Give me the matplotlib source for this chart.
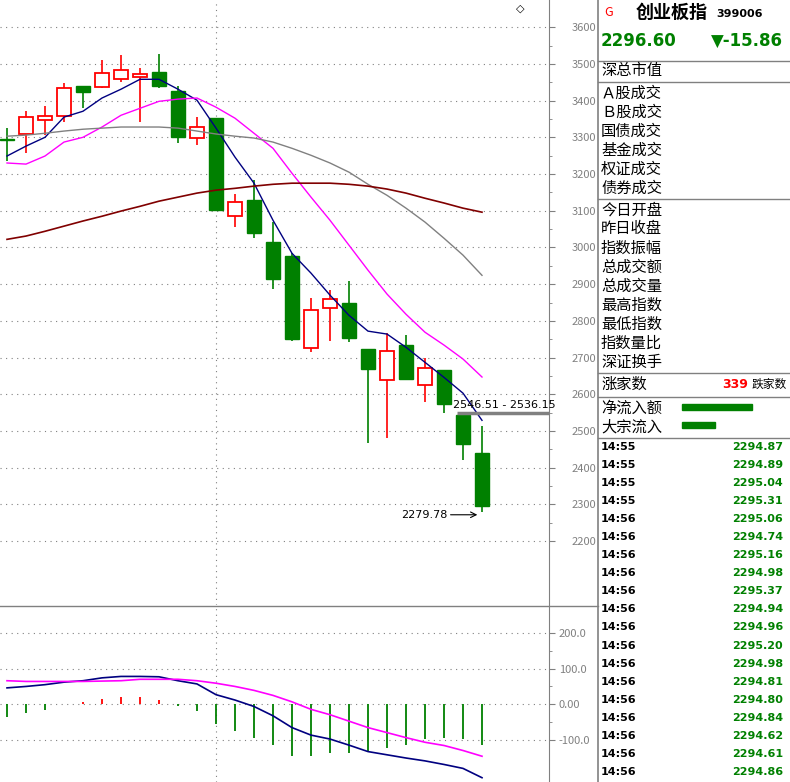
import matplotlib
matplotlib.use("Agg")
import matplotlib.pyplot as plt
import numpy as np

plt.rcParams['font.family'] = ['Noto Sans CJK SC', 'DejaVu Sans']

opens  = [3295,3309,3347,3358,3439,3437,3458,3464,3477,3426,3298,3352,3085,3129,3014,2976,2726,2835,2848,2723,2638,2734,2625,2666,2543,2440]
closes = [3292,3355,3358,3434,3423,3475,3483,3472,3439,3300,3328,3101,3123,3039,2914,2750,2829,2859,2753,2668,2717,2641,2671,2573,2464,2296.6]
highs  = [3325,3371,3385,3447,3439,3510,3524,3488,3526,3439,3355,3352,3145,3183,3069,2985,2862,2884,2908,2723,2766,2761,2698,2666,2543,2513]
lows   = [3235,3257,3306,3341,3380,3434,3450,3341,3434,3284,3279,3099,3055,3025,2886,2745,2715,2745,2742,2467,2480,2641,2578,2548,2420,2279.78]
ma5  = [3249,3276,3300,3355,3371,3407,3431,3458,3458,3431,3401,3325,3246,3175,3074,2984,2930,2870,2815,2772,2764,2728,2687,2646,2603,2529]
ma10 = [3230,3227,3249,3287,3300,3328,3360,3379,3398,3404,3407,3382,3352,3311,3270,3202,3137,3074,3006,2938,2873,2818,2769,2734,2696,2647]
ma30 = [3303,3306,3311,3317,3322,3325,3328,3328,3328,3325,3317,3309,3303,3298,3287,3270,3251,3230,3205,3172,3142,3107,3069,3025,2979,2924]
ma60 = [3022,3031,3044,3058,3072,3085,3099,3112,3126,3137,3148,3156,3161,3167,3172,3175,3175,3175,3172,3167,3159,3148,3134,3121,3107,3096]
macd = [-36,-23,-15,0,6,15,20,20,12,-6,-20,-56,-75,-94,-115,-145,-145,-135,-135,-130,-121,-115,-97,-95,-97,-114]
dif  = [46,50,55,62,66,74,78,78,77,66,57,27,12,-6,-32,-65,-86,-97,-114,-132,-141,-150,-158,-168,-179,-205]
dea  = [66,64,64,64,64,65,66,70,70,70,66,59,50,39,25,7,-14,-29,-47,-65,-79,-93,-106,-115,-129,-145]

row_labels1 = ["Ａ股成交","Ｂ股成交","国债成交","基金成交","权证成交","债券成交"]
row_labels2 = ["今日开盘","昨日收盘","指数振幅","总成交额","总成交量","最高指数","最低指数","指数量比","深证换手"]
tick_times = ["14:55"]*4 + ["14:56"]*15
tick_vals = ["2294.87","2294.89","2295.04","2295.31","2295.06","2294.74","2295.16","2294.98","2295.37",
             "2294.94","2294.96","2295.20","2294.98","2294.81","2294.80","2294.84","2294.62","2294.61","2294.86"]

W, H = 790, 782
fig = plt.figure(figsize=(7.9, 7.82), dpi=100)
def fx(x): return x / W
def fy(y): return 1 - y / H
GREEN = '#008000'
GRAY = '#808080'
DOT = (0, (1, 4))

xlim = (-7/19, (549-7)/19)
ax = fig.add_axes([0, fy(605), fx(549), 605/H])
ax.set_xlim(*xlim); ax.set_ylim(2026, 3674)
idx = np.arange(len(opens))
for i in idx:
    o, c, h, l = opens[i], closes[i], highs[i], lows[i]
    if c > o:
        ax.vlines(i, l, h, color='red', lw=1.2, zorder=3)
        ax.bar(i, c - o, bottom=o, width=0.72, facecolor='white', edgecolor='red', lw=1.3, zorder=4)
    else:
        ax.vlines(i, l, h, color=GREEN, lw=1.2, zorder=3)
        hgt = max(o - c, 3)
        ax.bar(i, hgt, bottom=c, width=0.72, facecolor=GREEN, edgecolor=GREEN, lw=1, zorder=4)
ax.plot(idx, ma5, color='#000080', lw=1, zorder=5)
ax.plot(idx, ma10, color='#ff00ff', lw=1, zorder=5)
ax.plot(idx, ma30, color=GRAY, lw=1, zorder=5)
ax.plot(idx, ma60, color='#800000', lw=1.2, zorder=5)
for v in range(2200, 3700, 100):
    ax.axhline(v, color=GRAY, lw=0.8, ls=DOT, zorder=1)
ax.axvline(11, color=GRAY, lw=0.8, ls=DOT, zorder=1)
ax.yaxis.tick_right()
ax.set_yticks(range(2200, 3700, 100))
ax.set_yticks(range(2250, 3650, 100), minor=True)
ax.tick_params(axis='y', colors=GRAY, labelsize=8, length=4, pad=12, direction='out')
ax.tick_params(axis='y', which='minor', colors=GRAY, length=2)
ax.set_xticks([])
for s in ['top', 'left', 'bottom']:
    ax.spines[s].set_visible(False)
ax.spines['right'].set_color(GRAY)
ax.hlines(2549, 23.7, xlim[1], color=GRAY, lw=2.5, zorder=6)
ax.text(23.45, 2556, "2546.51 - 2536.15", fontsize=8, family='DejaVu Sans', va='bottom', zorder=7)
ax.annotate("", xy=(24.9, 2279.78 - 8), xytext=(23.2, 2279.78 - 8),
            arrowprops=dict(arrowstyle='->', color='black', lw=0.8))
ax.text(23.2, 2279.78 - 8, "2279.78", fontsize=8, family='DejaVu Sans', ha='right', va='center')
fig.text(fx(520), fy(9), "◇", fontsize=8, ha='center', va='center', family='DejaVu Sans')

ax2 = fig.add_axes([0, 0, fx(549), 175/H])
ax2.set_xlim(*xlim); ax2.set_ylim(-217, 272)
colors = ['red' if v > 0 else GREEN for v in macd]
ax2.vlines(idx, 0, macd, colors=colors, lw=1.3)
ax2.plot(idx, dif, color='#000080', lw=1.2)
ax2.plot(idx, dea, color='#ff00ff', lw=1.2)
for v in [-100, 0, 100, 200]:
    ax2.axhline(v, color=GRAY, lw=0.8, ls=DOT, zorder=0)
ax2.axvline(11, color=GRAY, lw=0.8, ls=DOT, zorder=0)
ax2.set_xticks([])
ax2.yaxis.tick_right()
ax2.set_yticks([-100, 0, 100, 200])
ax2.set_yticklabels(["-100.0", "0.00", "100.0", "200.0"])
ax2.set_yticks([-50, 50, 150], minor=True)
ax2.tick_params(axis='y', colors=GRAY, labelsize=8, length=4, pad=3)
ax2.tick_params(axis='y', which='minor', colors=GRAY, length=2)
for s in ['top', 'left', 'bottom']:
    ax2.spines[s].set_visible(False)
ax2.spines['right'].set_color(GRAY)

fig.add_artist(plt.Line2D([0, fx(598)], [fy(606), fy(606)], color=GRAY, lw=1))
fig.add_artist(plt.Line2D([fx(598), fx(598)], [0, 1], color=GRAY, lw=1.2))
for y in [61, 82, 199, 373, 397, 438]:
    fig.add_artist(plt.Line2D([fx(598), 1], [fy(y), fy(y)], color=GRAY, lw=1))

fig.text(fx(604), fy(12), "G", color='red', fontsize=9, va='center')
fig.text(fx(636), fy(12), "创业板指", fontsize=13, fontweight='bold', va='center')
fig.text(fx(716), fy(14), "399006", fontsize=8, fontweight='bold', va='center', family='DejaVu Sans')
fig.text(fx(601), fy(41), "2296.60", fontsize=12, fontweight='bold', color=GREEN, va='center', family='DejaVu Sans')
fig.text(fx(711), fy(41), "▼-15.86", fontsize=12, fontweight='bold', color=GREEN, va='center', family='DejaVu Sans')
fig.text(fx(601), fy(71), "深总市值", fontsize=11, va='center')
for k, t in enumerate(row_labels1):
    fig.text(fx(601), fy(93 + 19 * k), t, fontsize=11, va='center')
for k, t in enumerate(row_labels2):
    fig.text(fx(601), fy(210 + 19 * k), t, fontsize=11, va='center')
fig.text(fx(601), fy(384), "涨家数", fontsize=11, va='center')
fig.text(fx(722), fy(384), "339", fontsize=9, color='red', fontweight='bold', va='center', family='DejaVu Sans')
fig.text(fx(752), fy(384), "跌家数", fontsize=8.5, va='center')
fig.text(fx(601), fy(408), "净流入额", fontsize=11, va='center')
fig.text(fx(601), fy(427), "大宗流入", fontsize=11, va='center')
fig.add_artist(plt.Rectangle((fx(682), fy(410)), fx(70), 6 / H, color=GREEN))
fig.add_artist(plt.Rectangle((fx(682), fy(428)), fx(33), 6 / H, color=GREEN))
for k, (t, v) in enumerate(zip(tick_times, tick_vals)):
    yy = fy(447 + 18.05 * k)
    fig.text(fx(601), yy, t, fontsize=8, fontweight='bold', va='center', family='DejaVu Sans')
    fig.text(fx(783), yy, v, fontsize=8, fontweight='bold', color=GREEN, va='center', ha='right', family='DejaVu Sans')

fig.savefig("out.png", dpi=100, facecolor='white')
